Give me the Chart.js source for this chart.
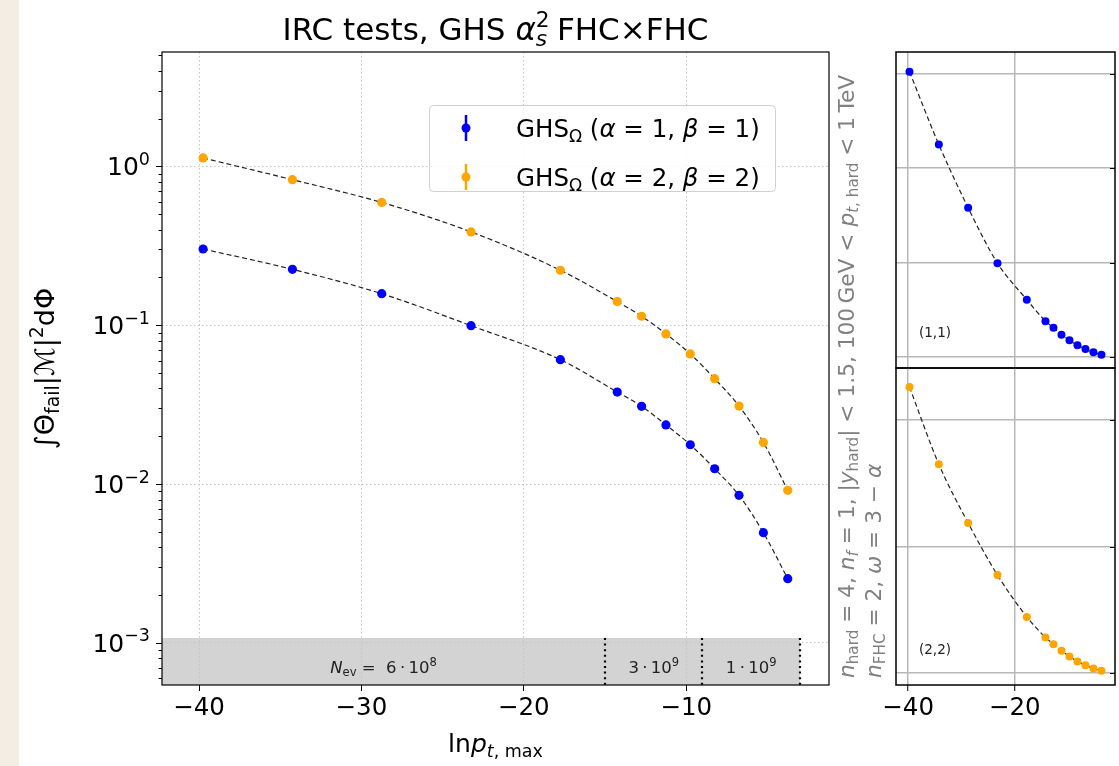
<!DOCTYPE html>
<html>
<head>
<meta charset="utf-8">
<script src="https://cdn.jsdelivr.net/npm/chart.js@4.4.0/dist/chart.umd.min.js"></script>
<style>
  body { margin: 0; background: #fff; }
  #wrap { position: relative; width: 1119px; height: 766px; background: #fff; overflow: hidden; }
  #strip { position: absolute; left: 0; top: 0; width: 19px; height: 766px; background: #f3ede4; }
  canvas { position: absolute; left: 0; top: 0; }
</style>
</head>
<body>
<div id="wrap">
  <div id="strip"></div>
  <canvas id="main" width="1119" height="766"></canvas>
  <canvas id="top" width="1119" height="766"></canvas>
  <canvas id="bot" width="1119" height="766"></canvas>
</div>
<script>
// ln p_t,max of each test point
const lnPt = [-39.75, -34.25, -28.75, -23.25, -17.75, -14.25, -12.75, -11.25, -9.75, -8.25, -6.75, -5.25, -3.75];
// GHS_Omega (alpha=1, beta=1)
const ghs11 = [0.302, 0.225, 0.158, 0.0994, 0.0607, 0.038, 0.0309, 0.0236, 0.0177, 0.0125, 0.0085, 0.00495, 0.00254];
// GHS_Omega (alpha=2, beta=2)
const ghs22 = [1.13, 0.825, 0.593, 0.387, 0.222, 0.141, 0.114, 0.0882, 0.066, 0.0461, 0.031, 0.0183, 0.00914];

const xTicks = [-40, -30, -20, -10];
const yTicks = [1e-3, 1e-2, 1e-1, 1];
const smallXTicks = [-40, -20];
const topYTicks = [0, 0.1, 0.2, 0.3];
const botYTicks = [0, 0.5, 1.0];

// event-count bands along the bottom
const bandEdges = [-42.28, -15, -9, -3];
const bandMant = [6, 3, 1];
const bandExp = [8, 9, 9];
const bandTop = 1.075e-3;

const FONT = '"DejaVu Sans"';
Chart.defaults.font.family = 'DejaVu Sans';

// draw text made of segments (italic / sub / sup); y is the baseline
function drawRich(ctx, segs, x, y, size, align, color) {
  ctx.save();
  ctx.fillStyle = color || '#000';
  ctx.textBaseline = 'alphabetic';
  ctx.textAlign = 'left';
  const parts = segs.map(s => {
    const fs = (s.sub || s.sup) ? size * 0.7 : size;
    ctx.font = (s.it ? 'italic ' : '') + fs + 'px ' + FONT;
    return { s: s, fs: fs, w: ctx.measureText(s.t).width };
  });
  let total = 0;
  parts.forEach(p => { if (!p.s.stack) total += p.w; });
  let cx = align === 'center' ? x - total / 2 : align === 'right' ? x - total : x;
  parts.forEach(p => {
    ctx.font = (p.s.it ? 'italic ' : '') + p.fs + 'px ' + FONT;
    const dy = p.s.sub ? size * 0.2 : p.s.sup ? -size * 0.42 : 0;
    ctx.fillText(p.s.t, cx, y + dy);
    if (!p.s.stack) cx += p.w;
  });
  ctx.restore();
  return total;
}

const mainDecor = {
  id: 'mainDecor',
  beforeDraw(chart) {
    const { ctx, scales: { x, y } } = chart;
    // grey band
    ctx.save();
    ctx.fillStyle = '#d3d3d3';
    const x0 = x.getPixelForValue(bandEdges[0]);
    const x1 = x.getPixelForValue(bandEdges[bandEdges.length - 1]);
    const yt = y.getPixelForValue(bandTop);
    ctx.fillRect(x0, yt, x1 - x0, chart.chartArea.bottom - yt);
    ctx.restore();
  },
  beforeDatasetsDraw(chart) {
    const { ctx, scales: { x, y } } = chart;
    const yt = y.getPixelForValue(bandTop);
    const yb = chart.chartArea.bottom;
    ctx.save();
    ctx.strokeStyle = '#000';
    ctx.lineWidth = 2.2;
    ctx.setLineDash([2, 3.6]);
    for (let i = 1; i < bandEdges.length; i++) {
      const px = Math.round(x.getPixelForValue(bandEdges[i]));
      ctx.beginPath();
      ctx.moveTo(px, yt);
      ctx.lineTo(px, yb);
      ctx.stroke();
    }
    ctx.restore();
    for (let i = 0; i < bandMant.length; i++) {
      const cx = (x.getPixelForValue(bandEdges[i]) + x.getPixelForValue(bandEdges[i + 1])) / 2;
      const segs = [];
      if (i === 0) segs.push({ t: 'N', it: true }, { t: 'ev', sub: true }, { t: ' =  ' });
      segs.push({ t: bandMant[i] + '\u2009\u00b7\u200910' }, { t: String(bandExp[i]), sup: true });
      drawRich(ctx, segs, cx, 673, 16.5, 'center', '#222');
    }
  },
  afterDraw(chart) {
    const { ctx, chartArea: a, scales: { x, y } } = chart;
    // spines
    ctx.save();
    ctx.strokeStyle = '#000';
    ctx.lineWidth = 1.2;
    ctx.strokeRect(a.left, a.top, a.right - a.left, a.bottom - a.top);
    // y ticks, major and minor
    ctx.lineWidth = 1;
    for (let d = -4; d <= 0; d++) {
      for (let m = 1; m <= 9; m++) {
        const v = m * Math.pow(10, d);
        if (v < y.min || v > y.max) continue;
        const py = Math.round(y.getPixelForValue(v)) + 0.5;
        ctx.beginPath();
        ctx.moveTo(a.left, py);
        ctx.lineTo(a.left - (m === 1 ? 6 : 3.5), py);
        ctx.stroke();
      }
    }
    ctx.restore();
    // y tick labels
    yTicks.forEach(v => {
      const py = y.getPixelForValue(v);
      const e = Math.round(Math.log10(v));
      drawRich(ctx, [{ t: '10' }, { t: (e < 0 ? '\u2212' : '') + Math.abs(e), sup: true }], a.left - 12, py + 9, 25, 'right');
    });
    // title
    drawRich(ctx, [
      { t: 'IRC tests, GHS ' }, { t: '\u03b1', it: true },
      { t: '2', sup: true, stack: true }, { t: 's', sub: true, it: true },
      { t: ' FHC\u00d7FHC' }
    ], (a.left + a.right) / 2, 40, 31, 'center');
    // x label
    drawRich(ctx, [{ t: 'ln' }, { t: 'p', it: true }, { t: 't', sub: true, it: true }, { t: ', max', sub: true }],
      (a.left + a.right) / 2, 752, 25, 'center');
    // y label
    ctx.save();
    ctx.translate(54, (a.top + a.bottom) / 2);
    ctx.rotate(-Math.PI / 2);
    drawRich(ctx, [{ t: '\u222b\u0398' }, { t: 'fail', sub: true }, { t: '|' }, { t: '\u2133', it: true },
      { t: '|' }, { t: '2', sup: true }, { t: 'd\u03a6' }], 0, 0, 27, 'center');
    ctx.restore();
    // legend
    ctx.save();
    ctx.fillStyle = 'rgba(255,255,255,0.85)';
    ctx.strokeStyle = '#d0d0d0';
    ctx.lineWidth = 1;
    ctx.beginPath();
    ctx.roundRect(429.5, 105.5, 346, 86, 4);
    ctx.fill();
    ctx.stroke();
    const rows = [{ c: '#0000ff', a: '1', b: '1', y: 128 }, { c: '#ffa500', a: '2', b: '2', y: 177 }];
    rows.forEach(r => {
      ctx.strokeStyle = r.c;
      ctx.lineWidth = 2.5;
      ctx.beginPath();
      ctx.moveTo(466, r.y - 13);
      ctx.lineTo(466, r.y + 13);
      ctx.stroke();
      ctx.fillStyle = r.c;
      ctx.beginPath();
      ctx.arc(466, r.y, 4.5, 0, Math.PI * 2);
      ctx.fill();
      drawRich(ctx, [{ t: 'GHS' }, { t: '\u03a9', sub: true }, { t: ' (' }, { t: '\u03b1', it: true },
        { t: ' = ' + r.a + ', ' }, { t: '\u03b2', it: true }, { t: ' = ' + r.b + ')' }], 516, r.y + 9, 24.5, 'left');
    });
    ctx.restore();
    // side text
    ctx.save();
    ctx.translate(854, 678);
    ctx.rotate(-Math.PI / 2);
    drawRich(ctx, [{ t: 'n', it: true }, { t: 'hard', sub: true }, { t: ' = 4, ' }, { t: 'n', it: true },
      { t: 'f', sub: true, it: true }, { t: ' = 1, |' }, { t: 'y', it: true }, { t: 'hard', sub: true },
      { t: '| < 1.5, 100\u2009GeV < ' }, { t: 'p', it: true }, { t: 't', sub: true, it: true },
      { t: ', hard', sub: true }, { t: ' < 1\u2009TeV' }], 0, 0, 21.7, 'left', '#808080');
    ctx.restore();
    ctx.save();
    ctx.translate(881, 678);
    ctx.rotate(-Math.PI / 2);
    drawRich(ctx, [{ t: 'n', it: true }, { t: 'FHC', sub: true }, { t: ' = 2, ' }, { t: '\u03c9', it: true },
      { t: ' = 3 \u2212 ' }, { t: '\u03b1', it: true }], 0, 0, 21.7, 'left', '#808080');
    ctx.restore();
  }
};

function lineSet(vals, color, r) {
  return {
    data: lnPt.map((v, i) => ({ x: v, y: vals[i] })),
    borderColor: '#222',
    borderWidth: 1.2,
    borderDash: [5, 3],
    cubicInterpolationMode: 'monotone',
    pointRadius: r,
    pointBorderWidth: 0,
    pointBackgroundColor: color,
    fill: false
  };
}

const tickFont = { family: 'DejaVu Sans', size: 24.5 };
const minusLabel = v => (v < 0 ? '\u2212' + Math.abs(v) : String(v));

new Chart(document.getElementById('main'), {
  type: 'line',
  data: { datasets: [lineSet(ghs11, '#0000ff', 4.6), lineSet(ghs22, '#ffa500', 4.6)] },
  options: {
    responsive: false,
    animation: false,
    devicePixelRatio: 1,
    layout: { padding: { left: 0, top: 52, right: 1119 - 829, bottom: 0 } },
    plugins: { legend: { display: false }, tooltip: { enabled: false } },
    scales: {
      x: {
        type: 'linear', min: -42.28, max: -1.21,
        afterBuildTicks: s => { s.ticks = xTicks.map(v => ({ value: v })); },
        afterFit: s => { s.height = 766 - 685; },
        grid: { color: '#c4c4c4', lineWidth: 1, tickLength: 6, tickColor: '#000', tickWidth: 1 },
        border: { display: false, dash: [1.5, 2.5] },
        ticks: { color: '#000', font: tickFont, padding: 3, maxRotation: 0, callback: minusLabel }
      },
      y: {
        type: 'logarithmic', min: 5.44e-4, max: 5.25,
        afterBuildTicks: s => { s.ticks = yTicks.map(v => ({ value: v })); },
        afterFit: s => { s.width = 162; },
        grid: { color: '#c4c4c4', lineWidth: 1, drawTicks: false },
        border: { display: false, dash: [1.5, 2.5] },
        ticks: { display: false }
      }
    }
  },
  plugins: [mainDecor]
});

function smallChart(id, vals, color, ymin, ymax, yt, top, bottom, showX, tag) {
  const decor = {
    id: 'smallDecor' + id,
    afterDraw(chart) {
      const { ctx, chartArea: a, scales: { y } } = chart;
      ctx.save();
      ctx.strokeStyle = '#000';
      ctx.lineWidth = 1.5;
      ctx.strokeRect(a.left, a.top, a.right - a.left, a.bottom - a.top);
      ctx.lineWidth = 1;
      yt.forEach(v => {
        const py = Math.round(y.getPixelForValue(v)) + 0.5;
        ctx.beginPath();
        ctx.moveTo(a.right - 5, py);
        ctx.lineTo(a.right, py);
        ctx.stroke();
      });
      ctx.restore();
      drawRich(ctx, [{ t: tag }], a.left + 23, a.bottom - 31, 13.5, 'left', '#222');
    }
  };
  new Chart(document.getElementById(id), {
    type: 'line',
    data: { datasets: [lineSet(vals, color, 4)] },
    options: {
      responsive: false,
      animation: false,
      devicePixelRatio: 1,
      layout: { padding: { left: 896, top: top, right: 0, bottom: 0 } },
      plugins: { legend: { display: false }, tooltip: { enabled: false } },
      scales: {
        x: {
          type: 'linear', min: -42.28, max: -1.21,
          afterBuildTicks: s => { s.ticks = smallXTicks.map(v => ({ value: v })); },
          afterFit: s => { s.height = 766 - bottom; },
          grid: { color: '#b8b8b8', lineWidth: 1.5, drawTicks: showX, tickLength: 6, tickColor: '#000', tickWidth: 1 },
          border: { display: false },
          ticks: { display: showX, color: '#000', font: tickFont, padding: 3, maxRotation: 0, callback: minusLabel }
        },
        y: {
          type: 'linear', position: 'right', min: ymin, max: ymax,
          afterBuildTicks: s => { s.ticks = yt.map(v => ({ value: v })); },
          afterFit: s => { s.width = 1; },
          grid: { color: '#b8b8b8', lineWidth: 1.5, drawTicks: false },
          border: { display: false },
          ticks: { display: false }
        }
      }
    },
    plugins: [decor]
  });
}

smallChart('top', ghs11, '#0000ff', -0.0116, 0.3229, topYTicks, 52, 368, false, '(1,1)');
smallChart('bot', ghs22, '#ffa500', -0.047, 1.205, botYTicks, 368, 685, true, '(2,2)');
</script>
</body>
</html>
